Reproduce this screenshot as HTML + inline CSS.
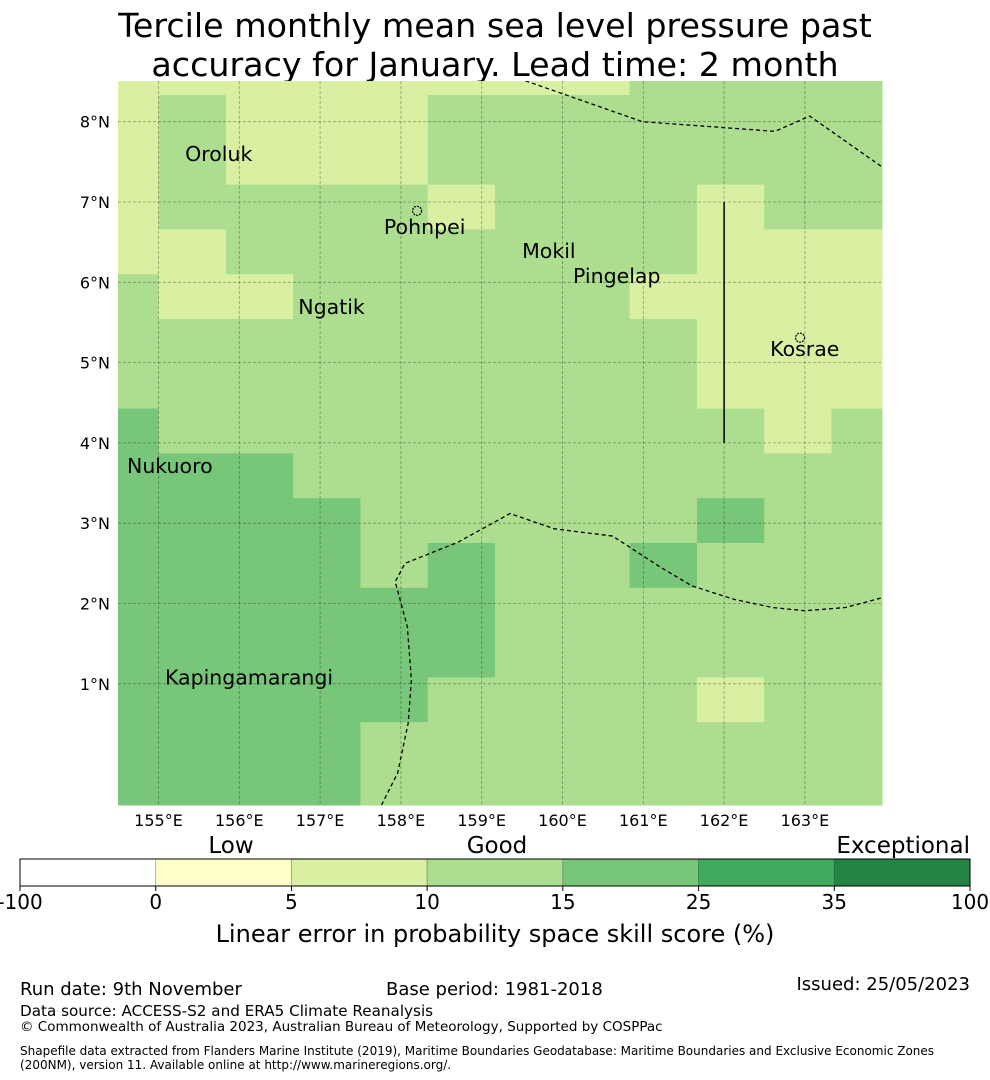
<!DOCTYPE html>
<html><head><meta charset="utf-8"><style>
html,body{margin:0;padding:0;background:#fff}
svg{display:block;font-family:"DejaVu Sans","Liberation Sans",sans-serif}
</style></head><body>
<svg id="chart" width="990" height="1080" viewBox="0 0 990 1080" xmlns="http://www.w3.org/2000/svg">
<text x="495" y="37" font-size="33.3" text-anchor="middle">Tercile monthly mean sea level pressure past</text>
<text x="495" y="76" font-size="33.3" text-anchor="middle">accuracy for January. Lead time: 2 month</text>
<g id="map"></g>
<g id="cbar"></g>
<text x="495" y="942" font-size="24" text-anchor="middle">Linear error in probability space skill score (%)</text>
<text x="20" y="995" font-size="18">Run date: 9th November</text>
<text x="386" y="995" font-size="18">Base period: 1981-2018</text>
<text x="970" y="990" font-size="18" text-anchor="end">Issued: 25/05/2023</text>
<text x="20" y="1016" font-size="15.2">Data source: ACCESS-S2 and ERA5 Climate Reanalysis</text>
<text x="20" y="1031" font-size="13.5">© Commonwealth of Australia 2023, Australian Bureau of Meteorology, Supported by COSPPac</text>
<text x="20" y="1055" font-size="12">Shapefile data extracted from Flanders Marine Institute (2019), Maritime Boundaries Geodatabase: Maritime Boundaries and Exclusive Economic Zones</text>
<text x="20" y="1069" font-size="12">(200NM), version 11. Available online at http://www.marineregions.org/.</text>
</svg>
<script>
// grid categories: L=5-10, G=10-15, D=15-25 (rows top to bottom, columns left to right)
const gridRows = [
"LLLLLLLLGGGG",
"LGLLLGGGGGGG",
"LGLLLGGGGGGG",
"LGGGGLGGGLGG",
"LLGGGGGGGLLL",
"GLLGGGGGLLLL",
"GGGGGGGGGLLL",
"GGGGGGGGGLLL",
"DGGGGGGGGGLG",
"DDDGGGGGGGGG",
"DDDDGGGGGDGG",
"DDDDGDGGDGGG",
"DDDDDDGGGGGG",
"DDDDDDGGGGGG",
"DDDDDGGGGLGG",
"DDDDGGGGGGGG",
"DDDDGGGGGGGG"];
const catColors = {L:"#d9f0a3",G:"#addd8e",D:"#78c679"};
const lonTicks = [155,156,157,158,159,160,161,162,163];
const latTicks = [8,7,6,5,4,3,2,1];
const places = ["Oroluk","Pohnpei","Mokil","Pingelap","Ngatik","Kosrae","Nukuoro","Kapingamarangi"];
const placeLon = [155.33,157.79,159.5,160.13,156.73,162.57,154.61,155.08];
const placeLat = [7.60,6.69,6.39,6.08,5.69,5.17,3.71,1.08];
const cbarBounds = ["-100","0","5","10","15","25","35","100"];
const cbarColors = ["#ffffff","#ffffcc","#d9f0a3","#addd8e","#78c679","#41ab5d","#238443"];
const eezTop = [[159.54,8.51],[160.99,8.0],[162.63,7.88],[163.06,8.07],[163.95,7.44]];
const eezBottom = [[157.76,-0.51],[157.96,-0.11],[158.09,0.51],[158.13,1.05],[158.08,1.71],[157.93,2.27],[158.05,2.5],[158.7,2.76],[159.35,3.12],[159.9,2.93],[160.62,2.84],[161.2,2.46],[161.6,2.22],[162.13,2.05],[162.6,1.95],[163.0,1.91],[163.5,1.95],[163.95,2.07]];

const NS="http://www.w3.org/2000/svg";
const X0=118,X1=882,Y0=81,Y1=805;
const xOf = lon => 158.5 + 80.8*(lon-155);
const yOf = lat => 121.7 + 80.3*(8-lat);
function mk(tag,attrs,parent){const e=document.createElementNS(NS,tag);for(const k in attrs)e.setAttribute(k,attrs[k]);parent.appendChild(e);return e;}
const map=document.getElementById('map');
const colEdges=[X0];for(let k=0;k<=10;k++)colEdges.push(158.5+67.3*k);colEdges.push(X1);
const rowEdges=[Y0];for(let k=0;k<16;k++)rowEdges.push(95+44.8*k);rowEdges.push(Y1);
gridRows.forEach((row,r)=>{
  for(let c=0;c<row.length;c++){
    const x=colEdges[c],y=rowEdges[r];
    const rc=mk('rect',{x:x,y:y,width:colEdges[c+1]-x+0.5,height:rowEdges[r+1]-y+0.5,fill:catColors[row[c]]},map);
    
    
  }
});
lonTicks.forEach(l=>{
  const ln=mk('line',{x1:xOf(l),x2:xOf(l),y1:Y0,y2:Y1,stroke:"#000","stroke-opacity":0.35,"stroke-width":0.8,"stroke-dasharray":"3,2"},map);
  
  
  const t=mk('text',{x:xOf(l),y:826,"font-size":16,"text-anchor":"middle"},map);t.textContent=l+"°E";
  
  
});
latTicks.forEach(l=>{
  const ln=mk('line',{x1:X0,x2:X1,y1:yOf(l),y2:yOf(l),stroke:"#000","stroke-opacity":0.35,"stroke-width":0.8,"stroke-dasharray":"3,2"},map);
  
  
  const t=mk('text',{x:110,y:yOf(l)+6,"font-size":16,"text-anchor":"end"},map);t.textContent=l+"°N";
  
  
});
const clip=mk('clipPath',{id:'mc'},map);mk('rect',{x:X0,y:Y0,width:X1-X0,height:Y1-Y0},clip);
function poly(pts,name){
  const p=mk('polyline',{points:pts.map(q=>xOf(q[0])+","+yOf(q[1])).join(" "),fill:"none",stroke:"#000","stroke-width":1.3,"stroke-dasharray":"4,3","clip-path":"url(#mc)"},map);
  
  
}
poly(eezTop,'eez-boundary-north');
poly(eezBottom,'eez-boundary-south');
const vl=mk('line',{x1:xOf(162),x2:xOf(162),y1:yOf(7),y2:yOf(4),stroke:"#000","stroke-width":1.5},map);


places.forEach((p,i)=>{
  const t=mk('text',{x:xOf(placeLon[i]),y:yOf(placeLat[i]),"font-size":20.5,"dominant-baseline":"central"},map);t.textContent=p;
  
  
});
[[158.2,6.89],[162.94,5.31]].forEach(q=>{
  const c=mk('circle',{cx:xOf(q[0]),cy:yOf(q[1]),r:4.5,fill:"none",stroke:"#000","stroke-width":1.2,"stroke-dasharray":"2,1"},map);
  
  
});
const cb=document.getElementById('cbar');
const CX0=20,CX1=970,CW=(CX1-CX0)/cbarColors.length;
cbarColors.forEach((col,i)=>{
  const r=mk('rect',{x:CX0+i*CW,y:859,width:CW,height:27,fill:col,stroke:"rgba(0,0,0,0.25)","stroke-width":0.8},cb);
  
  
});
mk('rect',{x:CX0,y:859,width:CX1-CX0,height:27,fill:"none",stroke:"#000","stroke-width":1},cb);
cbarBounds.forEach((b,i)=>{
  mk('line',{x1:CX0+i*CW,x2:CX0+i*CW,y1:886,y2:891,stroke:"#000"},cb);
  const t=mk('text',{x:CX0+i*CW,y:909,"font-size":20,"text-anchor":"middle"},cb);t.textContent=b;
  
  
});
[["Low",231,"middle"],["Good",497,"middle"],["Exceptional",970,"end"]].forEach(a=>{
  const t=mk('text',{x:a[1],y:853,"font-size":23,"text-anchor":a[2]},cb);t.textContent=a[0];
  
  
});
</script>
</body></html>
